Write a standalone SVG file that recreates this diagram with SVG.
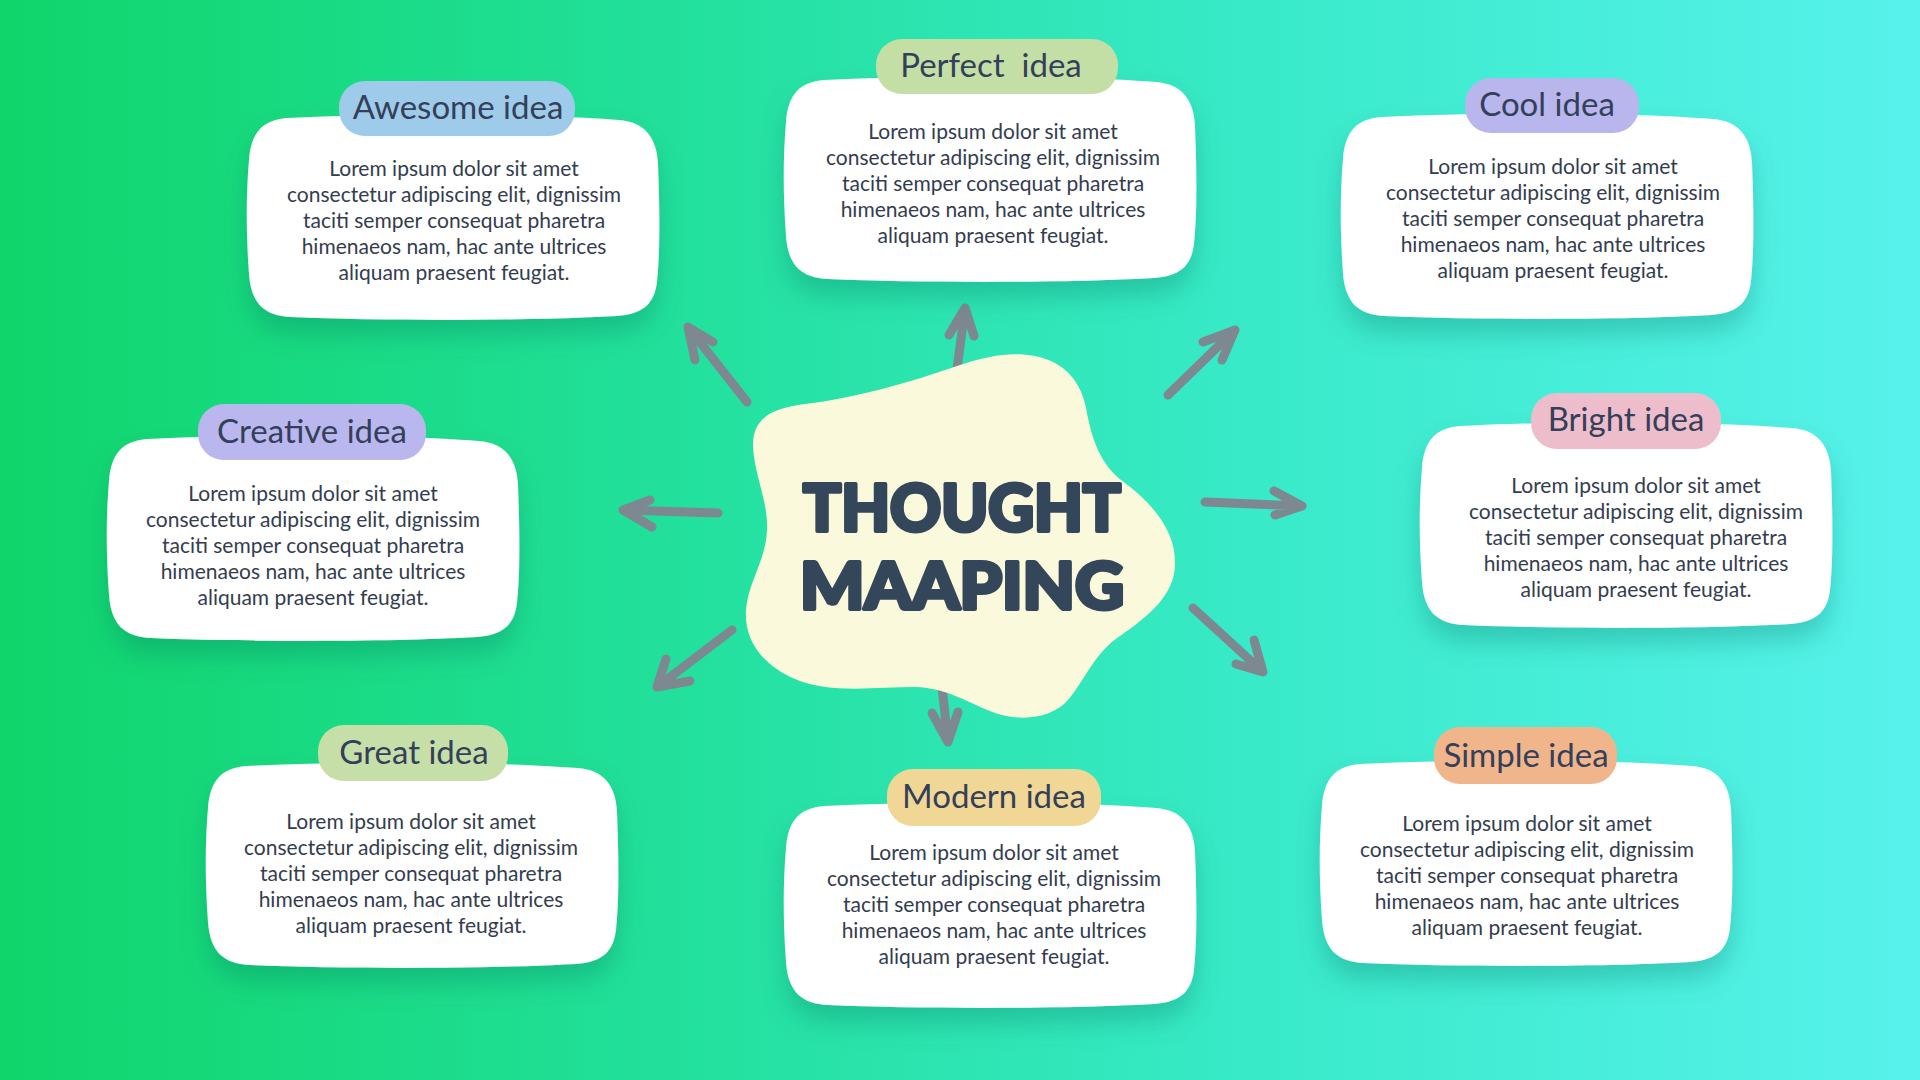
<svg xmlns="http://www.w3.org/2000/svg" xmlns:xlink="http://www.w3.org/1999/xlink" width="1920" height="1080" viewBox="0 0 1920 1080">
<defs>
<linearGradient id="bg" x1="0" y1="0" x2="1" y2="0">
<stop offset="0" stop-color="#10d56b"/>
<stop offset="0.35" stop-color="#22e09c"/>
<stop offset="0.65" stop-color="#38eac8"/>
<stop offset="1" stop-color="#57f2ec"/>
</linearGradient>
<filter id="sh" x="-20%" y="-20%" width="140%" height="160%">
<feDropShadow dx="0" dy="16" stdDeviation="13" flood-color="#0b6b58" flood-opacity="0.28"/>
</filter>
<path id="card" d="M40,4 C140,-1 280,-1 372,6 C398,8 410,24 411,50 C413,100 413,140 410,168 C407,192 394,200 370,202 C280,207 140,207 44,203 C18,202 4,190 2,160 C-1,120 -1,80 2,46 C4,18 16,6 40,4 Z"/>
<style>
.card{fill:#ffffff;filter:url(#sh)}
.pill{stroke:none}
.title{font-family:Lato,"Liberation Sans",sans-serif;font-size:33px;fill:#34405a;text-anchor:middle}
.body{font-family:Lato,"Liberation Sans",sans-serif;font-size:21px;fill:#333d4e;text-anchor:middle}
.arrow{fill:none;stroke:#7e8891;stroke-width:9;stroke-linecap:round;stroke-linejoin:round}
.big{font-family:Lato,"Liberation Sans",sans-serif;font-weight:900;font-size:64px;fill:#34475a;stroke:#34475a;stroke-width:4;stroke-linejoin:round;text-anchor:middle}
</style>
</defs>
<rect width="1920" height="1080" fill="url(#bg)"/>

<g id="connectors">
<path class="arrow" d="M747,402 L688,327 M695,360 L688,327 L713,342"/>
<path class="arrow" d="M953,400 L965,308 M949,335 L965,308 L974,336"/>
<path class="arrow" d="M1168,395 L1235,330 M1203,342 L1235,330 L1222,360"/>
<path class="arrow" d="M718,513 L623,510 M650,500 L623,510 L652,527"/>
<path class="arrow" d="M1205,502 L1302,506 M1274,491 L1302,506 L1275,515"/>
<path class="arrow" d="M732,630 L657,687 M666,659 L657,687 L690,681"/>
<path class="arrow" d="M938,650 L948,742 M932,713 L948,742 L958,712"/>
<path class="arrow" d="M1193,608 L1263,672 M1254,640 L1263,672 L1236,664"/>
</g>

<g id="center">
<path fill="#fbf9dc" d="M753,447 C752,418 772,408 805,404 C855,398 905,384 957,366 C990,355 1012,352 1035,356 C1065,362 1081,382 1086,408 C1092,440 1100,465 1125,483 C1158,508 1176,535 1175,565 C1174,595 1150,615 1120,636 C1095,652 1085,680 1068,700 C1052,718 1022,722 995,713 C968,703 948,688 915,687 C875,687 830,694 795,679 C762,665 744,640 746,610 C748,582 766,560 767,530 C768,500 755,478 753,447 Z"/>
<text class="big" x="962" y="531" textLength="318" lengthAdjust="spacingAndGlyphs">THOUGHT</text>
<text class="big" x="962" y="609" textLength="324" lengthAdjust="spacingAndGlyphs">MAAPING</text>
</g>

<g id="awesome">
<use xlink:href="#card" class="card" x="247" y="114"/>
<rect class="pill" x="339" y="81" width="236" height="55" rx="26" fill="#9ecbe9"/>
<text class="title" x="458" y="119">Awesome idea</text>
<text class="body"><tspan x="454" y="176">Lorem ipsum dolor sit amet</tspan><tspan x="454" y="202">consectetur adipiscing elit, dignissim</tspan><tspan x="454" y="228">taciti semper consequat pharetra</tspan><tspan x="454" y="254">himenaeos nam, hac ante ultrices</tspan><tspan x="454" y="280">aliquam praesent feugiat.</tspan></text>
</g>

<g id="perfect">
<use xlink:href="#card" class="card" x="784" y="76"/>
<rect class="pill" x="876" y="39" width="242" height="55" rx="26" fill="#c4dfa6"/>
<text class="title" x="991" y="77" style="white-space:pre">Perfect  idea</text>
<text class="body"><tspan x="993" y="139">Lorem ipsum dolor sit amet</tspan><tspan x="993" y="165">consectetur adipiscing elit, dignissim</tspan><tspan x="993" y="191">taciti semper consequat pharetra</tspan><tspan x="993" y="217">himenaeos nam, hac ante ultrices</tspan><tspan x="993" y="243">aliquam praesent feugiat.</tspan></text>
</g>

<g id="cool">
<use xlink:href="#card" class="card" x="1341" y="113"/>
<rect class="pill" x="1465" y="78" width="174" height="55" rx="26" fill="#b8b6ec"/>
<text class="title" x="1547" y="116">Cool idea</text>
<text class="body"><tspan x="1553" y="174">Lorem ipsum dolor sit amet</tspan><tspan x="1553" y="200">consectetur adipiscing elit, dignissim</tspan><tspan x="1553" y="226">taciti semper consequat pharetra</tspan><tspan x="1553" y="252">himenaeos nam, hac ante ultrices</tspan><tspan x="1553" y="278">aliquam praesent feugiat.</tspan></text>
</g>

<g id="creative">
<use xlink:href="#card" class="card" x="107" y="435"/>
<rect class="pill" x="198" y="404" width="228" height="56" rx="26" fill="#b9b7ee"/>
<text class="title" x="312" y="443">Creative idea</text>
<text class="body"><tspan x="313" y="501">Lorem ipsum dolor sit amet</tspan><tspan x="313" y="527">consectetur adipiscing elit, dignissim</tspan><tspan x="313" y="553">taciti semper consequat pharetra</tspan><tspan x="313" y="579">himenaeos nam, hac ante ultrices</tspan><tspan x="313" y="605">aliquam praesent feugiat.</tspan></text>
</g>

<g id="bright">
<use xlink:href="#card" class="card" x="1420" y="422"/>
<rect class="pill" x="1531" y="393" width="190" height="56" rx="26" fill="#eebdcc"/>
<text class="title" x="1626" y="431">Bright idea</text>
<text class="body"><tspan x="1636" y="493">Lorem ipsum dolor sit amet</tspan><tspan x="1636" y="519">consectetur adipiscing elit, dignissim</tspan><tspan x="1636" y="545">taciti semper consequat pharetra</tspan><tspan x="1636" y="571">himenaeos nam, hac ante ultrices</tspan><tspan x="1636" y="597">aliquam praesent feugiat.</tspan></text>
</g>

<g id="great">
<use xlink:href="#card" class="card" x="206" y="762"/>
<rect class="pill" x="318" y="725" width="190" height="56" rx="26" fill="#c6dfa9"/>
<text class="title" x="414" y="764">Great idea</text>
<text class="body"><tspan x="411" y="829">Lorem ipsum dolor sit amet</tspan><tspan x="411" y="855">consectetur adipiscing elit, dignissim</tspan><tspan x="411" y="881">taciti semper consequat pharetra</tspan><tspan x="411" y="907">himenaeos nam, hac ante ultrices</tspan><tspan x="411" y="933">aliquam praesent feugiat.</tspan></text>
</g>

<g id="modern">
<use xlink:href="#card" class="card" x="784" y="802"/>
<rect class="pill" x="887" y="769" width="214" height="57" rx="26" fill="#f1d795"/>
<text class="title" x="994" y="808">Modern idea</text>
<text class="body"><tspan x="994" y="860">Lorem ipsum dolor sit amet</tspan><tspan x="994" y="886">consectetur adipiscing elit, dignissim</tspan><tspan x="994" y="912">taciti semper consequat pharetra</tspan><tspan x="994" y="938">himenaeos nam, hac ante ultrices</tspan><tspan x="994" y="964">aliquam praesent feugiat.</tspan></text>
</g>

<g id="simple">
<use xlink:href="#card" class="card" x="1320" y="760"/>
<rect class="pill" x="1434" y="727" width="183" height="57" rx="26" fill="#f1b58b"/>
<text class="title" x="1526" y="767">Simple idea</text>
<text class="body"><tspan x="1527" y="831">Lorem ipsum dolor sit amet</tspan><tspan x="1527" y="857">consectetur adipiscing elit, dignissim</tspan><tspan x="1527" y="883">taciti semper consequat pharetra</tspan><tspan x="1527" y="909">himenaeos nam, hac ante ultrices</tspan><tspan x="1527" y="935">aliquam praesent feugiat.</tspan></text>
</g>
</svg>
